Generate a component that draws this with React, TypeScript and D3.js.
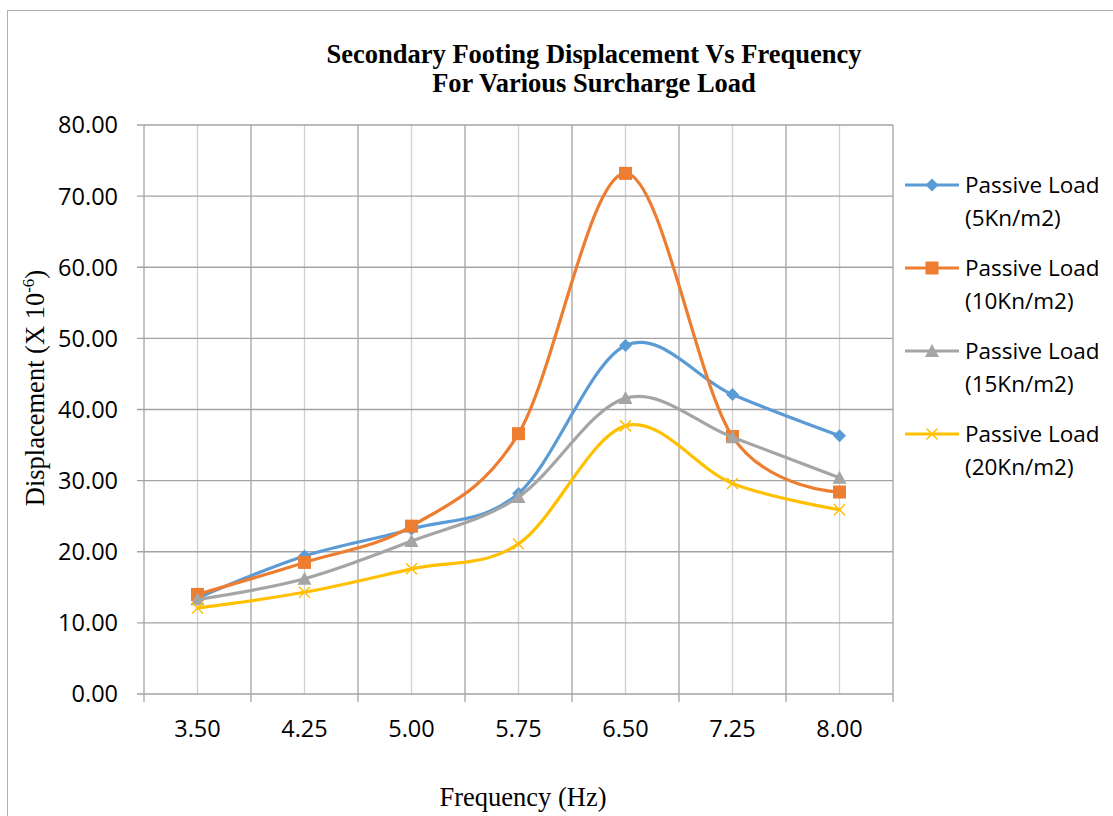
import React from "react";
import * as d3 from "d3";

const frequencies = ["3.50", "4.25", "5.00", "5.75", "6.50", "7.25", "8.00"];
const yTicks = [0, 10, 20, 30, 40, 50, 60, 70, 80];

const load5 = [13.5, 19.4, 23.2, 28.2, 49.0, 42.1, 36.3];
const load10 = [14.0, 18.5, 23.6, 36.6, 73.2, 36.2, 28.4];
const load15 = [13.3, 16.2, 21.5, 27.7, 41.6, 36.1, 30.4];
const load20 = [12.1, 14.3, 17.6, 21.1, 37.7, 29.6, 25.9];

const seriesNames = ["(5Kn/m2)", "(10Kn/m2)", "(15Kn/m2)", "(20Kn/m2)"];
const seriesColors = ["#5B9BD5", "#ED7D31", "#A5A5A5", "#FFC000"];
const seriesMarkers = ["diamond", "square", "triangle", "x"];

const series = [load5, load10, load15, load20].map((values, i) => ({
  name: seriesNames[i],
  color: seriesColors[i],
  marker: seriesMarkers[i],
  values,
}));

const W = 1113;
const H = 816;
const plot = { left: 144, right: 893, top: 125, bottom: 694 };
const sansFont = "'Open Sans', 'Liberation Sans', sans-serif";
const serifFont = "'Liberation Serif', 'DejaVu Serif', serif";

function Marker({ kind, cx, cy, color }: { kind: string; cx: number; cy: number; color: string }) {
  if (kind === "diamond") {
    const r = 6.5;
    return <path d={`M${cx},${cy - r}L${cx + r},${cy}L${cx},${cy + r}L${cx - r},${cy}Z`} fill={color} />;
  }
  if (kind === "square") {
    const s = 13;
    return <rect x={cx - s / 2} y={cy - s / 2} width={s} height={s} fill={color} />;
  }
  if (kind === "triangle") {
    const r = 7;
    return <path d={`M${cx},${cy - r}L${cx + r},${cy + r * 0.85}L${cx - r},${cy + r * 0.85}Z`} fill={color} />;
  }
  const r = 5.5;
  return (
    <path
      d={`M${cx - r},${cy - r}L${cx + r},${cy + r}M${cx - r},${cy + r}L${cx + r},${cy - r}`}
      stroke={color}
      strokeWidth={1.5}
      fill="none"
    />
  );
}

export default function App() {
  const x = d3.scaleBand<string>().domain(frequencies).range([plot.left, plot.right]).padding(0);
  const y = d3.scaleLinear().domain([0, 80]).range([plot.bottom, plot.top]);
  const cxOf = (f: string) => (x(f) as number) + x.bandwidth() / 2;

  const line = d3
    .line<number>()
    .x((_, i) => cxOf(frequencies[i]))
    .y((v) => y(v))
    .curve(d3.curveCardinal.tension(0));

  const boundaries = frequencies.map((f) => x(f) as number).concat([plot.right]);
  const majorGrid = "#a3a3a3";
  const minorGrid = "#d0d0d0";

  return (
    <svg width={W} height={H} style={{ position: "absolute", left: 0, top: 0, background: "#fff" }}>
      <rect x={7.5} y={10.5} width={W + 10} height={H + 10} fill="#fff" stroke="#b0b0b0" strokeWidth={1} />

      <text x={594} y={63} textAnchor="middle" fontFamily={serifFont} fontWeight="bold" fontSize={26.5}>
        Secondary Footing Displacement Vs Frequency
      </text>
      <text x={594} y={92} textAnchor="middle" fontFamily={serifFont} fontWeight="bold" fontSize={26.5}>
        For Various Surcharge Load
      </text>

      {/* minor vertical gridlines at category centres */}
      {frequencies.map((f) => (
        <line key={"mv" + f} x1={cxOf(f)} x2={cxOf(f)} y1={plot.top} y2={plot.bottom} stroke={minorGrid} strokeWidth={1.3} />
      ))}
      {/* major vertical gridlines at category boundaries */}
      {boundaries.map((bx, i) => (
        <line key={"v" + i} x1={bx} x2={bx} y1={plot.top} y2={plot.bottom + 8} stroke={majorGrid} strokeWidth={1.3} />
      ))}
      {/* horizontal gridlines */}
      {yTicks.map((t) => (
        <line key={"h" + t} x1={plot.left - 7} x2={plot.right} y1={y(t)} y2={y(t)} stroke={majorGrid} strokeWidth={1.3} />
      ))}

      {yTicks.map((t) => (
        <text key={"yl" + t} x={118} y={y(t)} dy="0.36em" textAnchor="end" fontFamily={sansFont} fontSize={23.5} fill="#000">
          {t.toFixed(2)}
        </text>
      ))}
      {frequencies.map((f) => (
        <text key={"xl" + f} x={cxOf(f)} y={737} textAnchor="middle" fontFamily={sansFont} fontSize={23.5} fill="#000">
          {f}
        </text>
      ))}

      <text x={523} y={806} textAnchor="middle" fontFamily={serifFont} fontSize={26.5}>
        Frequency (Hz)
      </text>
      <text transform="translate(44,388) rotate(-90)" textAnchor="middle" fontFamily={serifFont} fontSize={26.5}>
        Displacement (X 10
        <tspan dy={-10} fontSize={17}>-6</tspan>
        <tspan dy={10}>)</tspan>
      </text>

      {series.map((s) => (
        <g key={s.name}>
          <path d={line(s.values) || ""} fill="none" stroke={s.color} strokeWidth={3.2} strokeLinejoin="round" />
          {s.values.map((v, i) => (
            <Marker key={i} kind={s.marker} cx={cxOf(frequencies[i])} cy={y(v)} color={s.color} />
          ))}
        </g>
      ))}

      {series.map((s, i) => {
        const ly = 185 + i * 83;
        return (
          <g key={"lg" + s.name}>
            <line x1={905} x2={959} y1={ly} y2={ly} stroke={s.color} strokeWidth={3.2} />
            <Marker kind={s.marker} cx={932} cy={ly} color={s.color} />
            <text x={965} y={ly} dy="0.36em" fontFamily={sansFont} fontSize={22.5} fill="#000">
              Passive Load
            </text>
            <text x={965} y={ly + 33} dy="0.36em" fontFamily={sansFont} fontSize={22.5} fill="#000">
              {s.name}
            </text>
          </g>
        );
      })}
    </svg>
  );
}
